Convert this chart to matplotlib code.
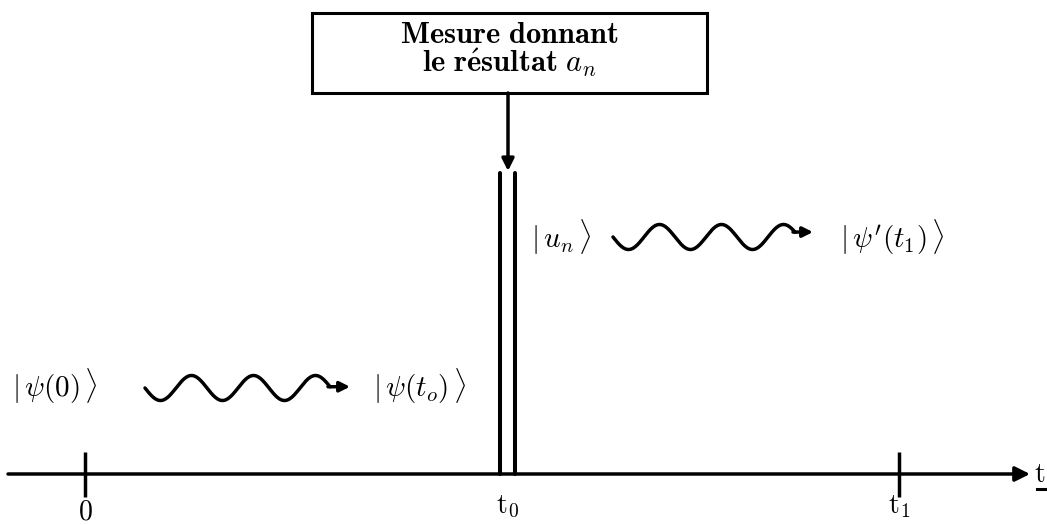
import numpy as np
import matplotlib.pyplot as plt
from matplotlib.patches import Rectangle

plt.rcParams['mathtext.fontset'] = 'cm'
plt.rcParams['font.family'] = 'serif'
plt.rcParams['font.serif'] = ['cmr10', 'DejaVu Serif']

# time axis ticks
tick_x = [85, 507, 899]
tick_labels = [r'$0$', r'$\mathrm{t}_0$', r'$\mathrm{t}_1$']

# kets (text, x centre, y centre)
kets = [
    (r'$|\,\psi(0)\,\rangle$', 55, 386),
    (r'$|\,\psi(t_o)\,\rangle$', 420, 386),
    (r'$|\,u_n\,\rangle$', 561, 237),
    (r'$|\,\psi^{\prime}(t_1)\,\rangle$', 892, 237),
]

# wavy arrows: start x, end of wave x, arrow tip x, mid y
waves = [(145, 330, 350, 388), (613, 795, 813, 237)]

box_lines = [r'$\mathbf{Mesure\ donnant}$', r'$\mathbf{le\ r\acute{e}sultat}\ a_n$']

fig = plt.figure(figsize=(10.47, 5.25), dpi=100)
ax = fig.add_axes([0, 0, 1, 1])
ax.set_xlim(0, 1047)
ax.set_ylim(525, 0)
ax.axis('off')

axis_y = 474
ax.annotate('', xy=(1030, axis_y), xytext=(8, axis_y),
            arrowprops=dict(arrowstyle='-|>', lw=2.5, color='k', mutation_scale=22,
                            shrinkA=0, shrinkB=0))
ax.text(1040, 482, r'$\mathrm{t}$', fontsize=20, ha='center', va='baseline')
ax.plot([1037, 1047], [489, 489], color='k', lw=2.2)

# tick marks at 0 and t1
for x in [tick_x[0], tick_x[2]]:
    ax.plot([x, x], [452, 497], color='k', lw=2.5, solid_capstyle='butt')
for x, lab in zip(tick_x, tick_labels):
    base = 520 if lab == r'$0$' else 513
    ax.text(x, base, lab, fontsize=20, ha='center', va='baseline')

# double bar at t0
for x in [500, 515]:
    ax.plot([x, x], [173, axis_y], color='k', lw=2.9, solid_capstyle='round')

# measurement box
ax.add_patch(Rectangle((312, 13), 395, 80, fill=False, lw=2.2, ec='k'))
ax.text(509, 43, box_lines[0], fontsize=22, ha='center', va='baseline')
ax.text(509, 72, box_lines[1], fontsize=22, ha='center', va='baseline')
ax.annotate('', xy=(508, 171), xytext=(508, 93),
            arrowprops=dict(arrowstyle='-|>', lw=2.5, color='k', mutation_scale=18,
                            shrinkA=0, shrinkB=0))

# kets
for txt, x, y in kets:
    ax.text(x, y, txt, fontsize=21, ha='center', va='center')

# wavy arrows
for x0, x1, xt, ym in waves:
    amp = 12.5
    period = 62
    xs = np.linspace(x0, x1, 300)
    ys = ym + amp * np.sin(2 * np.pi * (xs - x0) / period)
    ax.plot(xs, ys, color='k', lw=2.5, solid_capstyle='round')
    ax.annotate('', xy=(xt, ys[-1]), xytext=(x1 - 2, ys[-1]),
                arrowprops=dict(arrowstyle='-|>', lw=2.5, color='k', mutation_scale=15,
                                shrinkA=0, shrinkB=0))

fig.savefig('out.png', dpi=100)
